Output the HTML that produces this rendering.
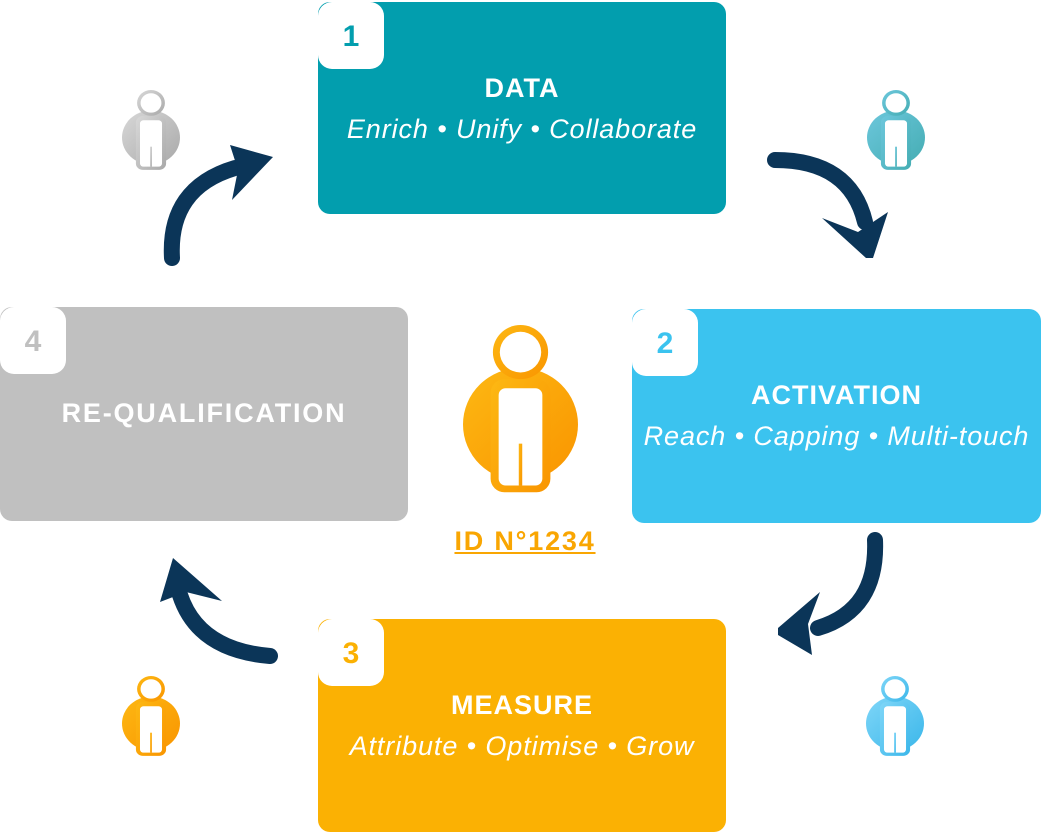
<!DOCTYPE html>
<html><head><meta charset="utf-8"><style>
body{margin:0;width:1041px;height:834px;background:#fff;position:relative;overflow:hidden;font-family:"Liberation Sans",sans-serif}
.box{position:absolute;border-radius:12px;color:#fff;text-align:center}
.tab{position:absolute;left:0;top:0;width:66px;height:67px;background:#fff;border-radius:14px;font-weight:bold;font-size:30px;line-height:70px;text-align:center}
.t{font-weight:bold;font-size:27px;letter-spacing:1px;position:absolute;left:0;right:0}
.s{font-style:italic;font-size:27px;letter-spacing:0.9px;position:absolute;left:-20px;right:-20px;white-space:nowrap}
svg{position:absolute;left:0;top:0}
</style></head><body>
<div class="box" style="left:318px;top:2px;width:408px;height:212px;background:#029eae"><div class="tab" style="color:#029eae">1</div><div class="t" style="top:71px">DATA</div><div class="s" style="top:112px">Enrich • Unify • Collaborate</div></div>
<div class="box" style="left:632px;top:309px;width:409px;height:214px;background:#3bc3ef"><div class="tab" style="color:#3bc3ef">2</div><div class="t" style="top:71px">ACTIVATION</div><div class="s" style="top:112px">Reach • Capping • Multi-touch</div></div>
<div class="box" style="left:318px;top:619px;width:408px;height:213px;background:#fbb103"><div class="tab" style="color:#fbb103">3</div><div class="t" style="top:71px">MEASURE</div><div class="s" style="top:112px">Attribute • Optimise • Grow</div></div>
<div class="box" style="left:0;top:307px;width:408px;height:214px;background:#c0c0c0"><div class="tab" style="color:#c0c0c0">4</div><div class="t" style="top:91px;letter-spacing:1.8px">RE-QUALIFICATION</div></div>
<div style="position:absolute;left:420px;top:526px;width:210px;text-align:center;color:#f9a602;font-weight:bold;font-size:27px;letter-spacing:1.8px;text-decoration:underline">ID N°1234</div>
<svg width="1041" height="834">
<defs>
<linearGradient id="go" x1="0" y1="0" x2="1" y2="1"><stop offset="0" stop-color="#fdb813"/><stop offset="1" stop-color="#f99500"/></linearGradient>
<linearGradient id="gt" x1="0" y1="0" x2="1" y2="1"><stop offset="0" stop-color="#6cc7dc"/><stop offset="1" stop-color="#45adb3"/></linearGradient>
<linearGradient id="gg" x1="0" y1="0" x2="1" y2="1"><stop offset="0" stop-color="#d8d8d8"/><stop offset="1" stop-color="#a9a9a9"/></linearGradient>
<linearGradient id="gb" x1="0" y1="0" x2="1" y2="1"><stop offset="0" stop-color="#7fd6f8"/><stop offset="1" stop-color="#3bb7ea"/></linearGradient>
<g id="p">
<circle cx="50" cy="88" r="50"/>
<circle cx="50" cy="24" r="24"/>
<rect x="24" y="48" width="52" height="100" rx="12"/>
<circle cx="50" cy="24" r="18" fill="#fff"/>
<rect x="31" y="56" width="38" height="86" rx="6" fill="#fff"/>
<rect x="48.5" y="105" width="3" height="37" fill-opacity="1"/>
</g>
</defs>
<use href="#p" fill="url(#go)" transform="translate(463,325) scale(1.15,1.13)"/>
<use href="#p" fill="url(#gg)" transform="translate(122,90) scale(0.58,0.54)"/>
<use href="#p" fill="url(#gt)" transform="translate(867,90) scale(0.58,0.54)"/>
<use href="#p" fill="url(#go)" transform="translate(122,676) scale(0.58,0.54)"/>
<use href="#p" fill="url(#gb)" transform="translate(866,676) scale(0.58,0.54)"/>
<g fill="#0b3558" stroke="none">
<path d="M775,160 Q850,160 865,222" stroke="#0b3558" stroke-width="16" fill="none" stroke-linecap="round"/>
<polygon points="822,218 858,232 888,212 873,258 866,258"/>
<path d="M875,540 Q878,610 818,628" stroke="#0b3558" stroke-width="16" fill="none" stroke-linecap="round"/>
<polygon points="820,592 808,624 812,655 778,635 778,628"/>
<path d="M270,656 Q198,650 180,595" stroke="#0b3558" stroke-width="16" fill="none" stroke-linecap="round"/>
<polygon points="173,558 160,602 186,592 222,601"/>
<path d="M172,258 Q168,188 235,168" stroke="#0b3558" stroke-width="16" fill="none" stroke-linecap="round"/>
<polygon points="273,157 230,145 238,170 232,200"/>
</g>
</svg>
</body></html>
